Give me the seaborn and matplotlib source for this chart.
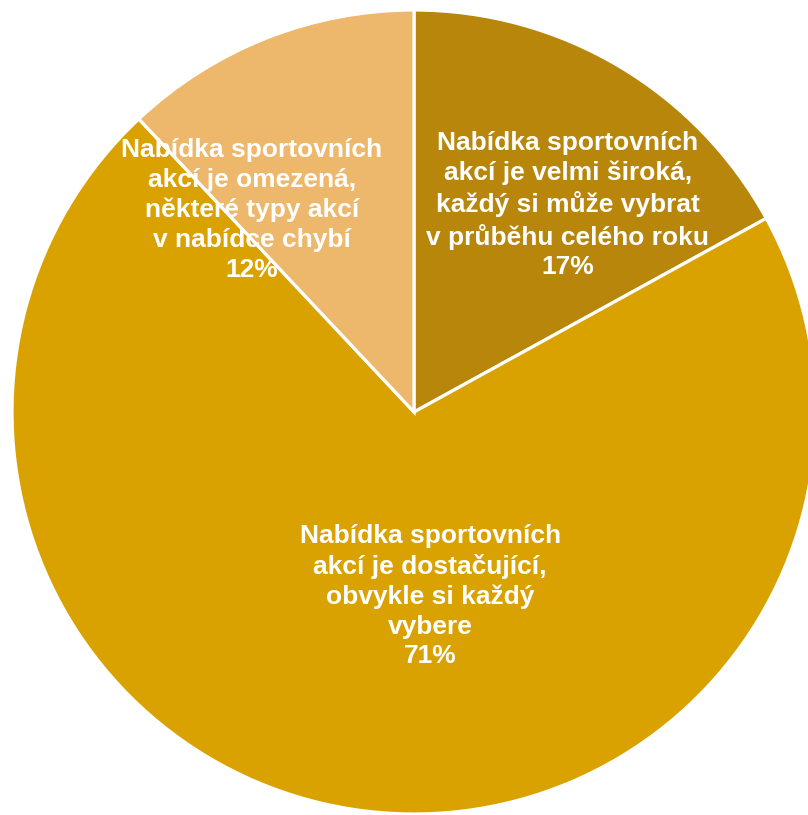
import matplotlib
matplotlib.use("Agg")
import matplotlib.pyplot as plt
import seaborn as sns

categories = [
    "Nabídka sportovních\nakcí je velmi široká,\nkaždý si může vybrat\nv průběhu celého roku",
    "Nabídka sportovních\nakcí je dostačující,\nobvykle si každý\nvybere",
    "Nabídka sportovních\nakcí je omezená,\nněkteré typy akcí\nv nabídce chybí",
]
values = [17, 71, 12]
colors = ["#B8860B", "#DAA200", "#EDB86B"]

sns.set_style("white")
plt.rcParams["font.family"] = ["Liberation Sans", "DejaVu Sans"]

W, H, DPI = 808, 815, 100
fig = plt.figure(figsize=(W / DPI, H / DPI), dpi=DPI)
ax = fig.add_axes([0, 0, 1, 1])

cx, cy, R = 414, 412, 402  # pixel center & radius
wedges, _ = ax.pie(values, colors=sns.color_palette(colors), startangle=90,
                   counterclock=False, radius=1.0,
                   wedgeprops=dict(edgecolor="white", linewidth=2.3))
ax.set_aspect("auto")
ax.set_xlim(-cx / R, (W - cx) / R)
ax.set_ylim(-(H - cy) / R, cy / R)
ax.axis("off")

label_pos = [(0.383, 0.515), (0.040, -0.458), (-0.403, 0.503)]
for cat, v, (x, y) in zip(categories, values, label_pos):
    ax.text(x, y, f"{cat}\n{v}%", ha="center", va="center", color="white",
            fontsize=19, fontweight="bold", linespacing=1.3)

fig.savefig("out.png", dpi=DPI)
